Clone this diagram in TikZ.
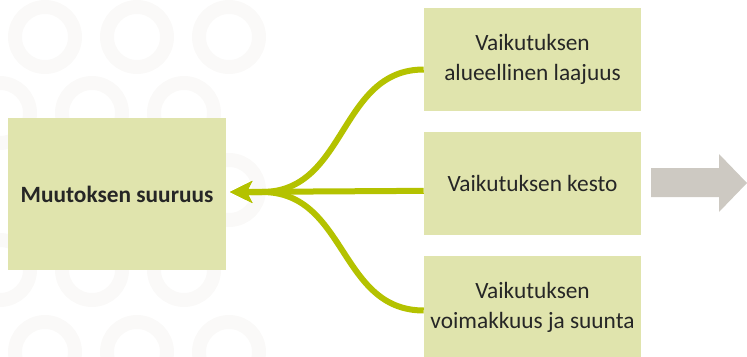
\documentclass[tikz,border=0pt]{standalone}
\usepackage{fontspec}
\setmainfont{Carlito}
\usetikzlibrary{arrows.meta}
\definecolor{boxgreen}{HTML}{E0E4AD}
\definecolor{leafgreen}{HTML}{B4C200}
\definecolor{arrowgrey}{HTML}{CDC9C2}
\definecolor{ringgrey}{HTML}{FAF9F8}
\definecolor{textgrey}{HTML}{262626}
\begin{document}
\begin{tikzpicture}[x=0.75pt, y=-0.75pt, node distance=93pt,
	box/.style={rectangle, fill=boxgreen, inner sep=0pt, align=center, text=textgrey,
		font=\fontsize{17.5}{22}\selectfont},
	flow/.style={draw=leafgreen, line width=4.5pt, -{Stealth[length=16.5pt, width=16pt, inset=4pt]}}]
	\useasboundingbox (0,0) rectangle (747,357);
	% faint rings in the background
	\foreach \y/\off in {37/45, 113/0, 190/45, 270/0, 352/45}
		\foreach \i in {0,1,2}
			\draw [ringgrey, line width=10.5pt] (\off+92*\i,\y) circle [radius=30];
	% Place nodes
	\node [box, minimum width=163.5pt, minimum height=114pt] (main) at (117,194) {\textbf{Muutoksen suuruus}};
	\node [box, minimum width=162.75pt, minimum height=77.25pt] (kesto) at (532.5,183.5) {Vaikutuksen kesto};
	\node [box, minimum width=162.75pt, minimum height=77.25pt, above of=kesto] (laajuus) {Vaikutuksen\\alueellinen laajuus};
	\node [box, minimum width=162.75pt, minimum height=77.25pt, below of=kesto] (suunta) {Vaikutuksen\\voimakkuus ja suunta};
	\coordinate (tip) at (230,192);
	\coordinate (hub) at (262,192);
	% branches
	\draw [flow] ([yshift=-7.5pt]laajuus.west) .. controls +(-85,0) and +(85,0) .. (hub) -- (tip);
	\draw [flow] ([yshift=-5.5pt]kesto.west) -- (tip);
	\draw [flow] ([yshift=-2.25pt]suunta.west) .. controls +(-85,0) and +(85,0) .. (hub) -- (tip);
	% grey arrow
	\fill [arrowgrey] (651,168) -- (719,168) -- (719,154) -- (747,183) -- (719,212) -- (719,197) -- (651,197) -- cycle;
\end{tikzpicture}
\end{document}
